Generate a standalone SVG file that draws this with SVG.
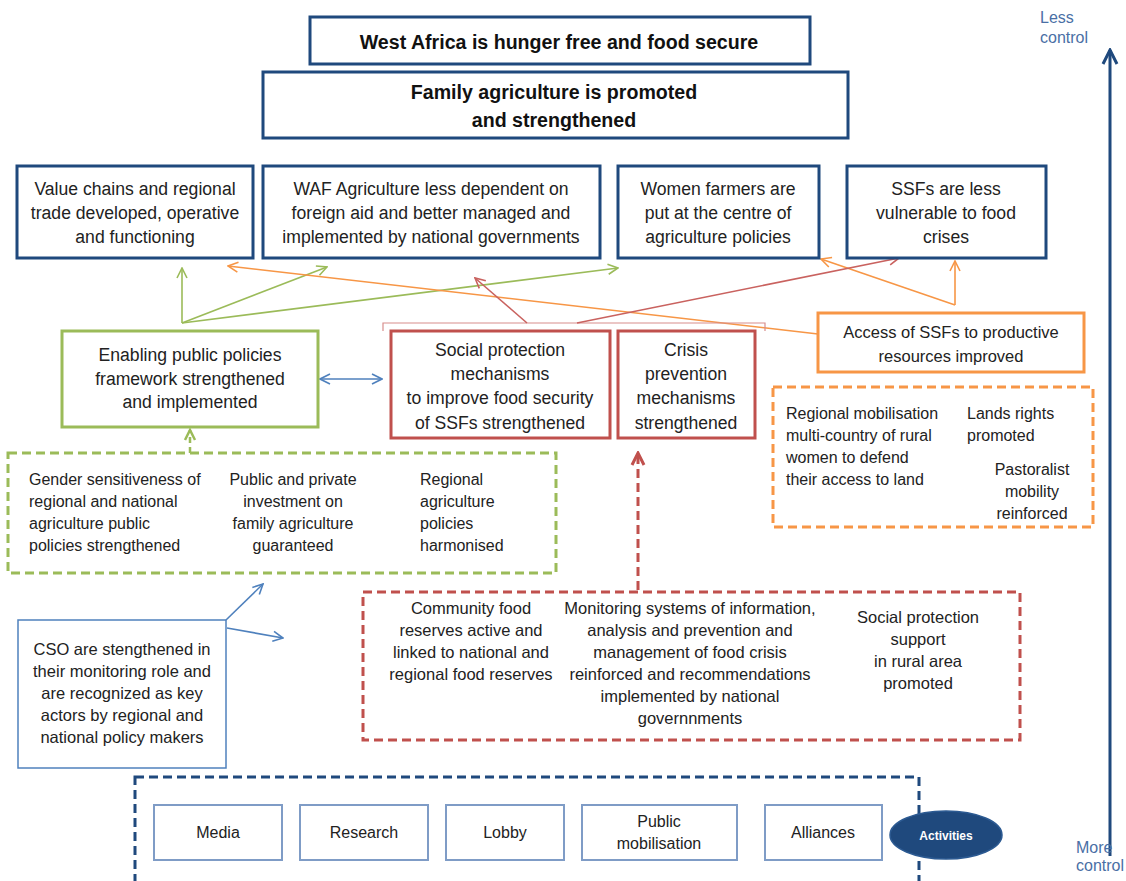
<svg xmlns="http://www.w3.org/2000/svg" width="1126" height="881" viewBox="0 0 1126 881">
<style>
  text { font-family: "Liberation Sans", Arial, sans-serif; fill: #222; }
  .c { text-anchor: middle; }
  .t18 { font-size: 17.6px; }
  .t17 { font-size: 16.5px; }
  .t16 { font-size: 16px; }
  .t15 { font-size: 16.5px; }
  .bold { font-weight: bold; font-size: 19.6px; fill: #111; }
  .navy { fill: #fff; stroke: #1F497D; stroke-width: 3; }
  .green { fill: #fff; stroke: #9BBB59; stroke-width: 3; }
  .red { fill: #fff; stroke: #C0504D; stroke-width: 3; }
  .orange { fill: #fff; stroke: #F79646; stroke-width: 3; }
  .dash { fill: none; stroke-width: 3; stroke-dasharray: 9 5; }
  .thinblue { fill: #fff; stroke: #4F81BD; stroke-width: 1.5; }
  .act { fill: #fff; stroke: #7F9CC6; stroke-width: 2; }
  .ctl { font-size: 16px; fill: #4A6FA5; }
  .ln { fill: none; stroke-width: 1.6; }
</style>
<defs>
  <marker id="aG" viewBox="0 0 12 12" refX="11" refY="6" markerWidth="12" markerHeight="12" markerUnits="userSpaceOnUse" orient="auto"><path d="M1,1 L11,6 L1,11" fill="none" stroke="#9BBB59" stroke-width="1.6"/></marker>
  <marker id="aO" viewBox="0 0 12 12" refX="11" refY="6" markerWidth="12" markerHeight="12" markerUnits="userSpaceOnUse" orient="auto"><path d="M1,1 L11,6 L1,11" fill="none" stroke="#F79646" stroke-width="1.6"/></marker>
  <marker id="aR" viewBox="0 0 12 12" refX="11" refY="6" markerWidth="12" markerHeight="12" markerUnits="userSpaceOnUse" orient="auto"><path d="M1,1 L11,6 L1,11" fill="none" stroke="#C9625F" stroke-width="1.6"/></marker>
  <marker id="aB" viewBox="0 0 12 12" refX="11" refY="6" markerWidth="12" markerHeight="12" markerUnits="userSpaceOnUse" orient="auto-start-reverse"><path d="M1,1 L11,6 L1,11" fill="none" stroke="#4F81BD" stroke-width="1.6"/></marker>
  <marker id="aGd" viewBox="0 0 14 14" refX="12" refY="7" markerWidth="14" markerHeight="14" markerUnits="userSpaceOnUse" orient="auto"><path d="M2,2 L12,7 L2,12" fill="none" stroke="#9BBB59" stroke-width="2.5"/></marker>
  <marker id="aRd" viewBox="0 0 16 16" refX="14" refY="8" markerWidth="16" markerHeight="16" markerUnits="userSpaceOnUse" orient="auto"><path d="M2,2 L14,8 L2,14" fill="none" stroke="#C0504D" stroke-width="3"/></marker>
  <marker id="aN" viewBox="0 0 18 18" refX="16" refY="9" markerWidth="18" markerHeight="18" markerUnits="userSpaceOnUse" orient="auto"><path d="M2,2 L16,9 L2,16" fill="none" stroke="#1F497D" stroke-width="3"/></marker>
</defs>

<g id="connectors">
  <path class="ln" stroke="#9BBB59" d="M182,323 L182,268" marker-end="url(#aG)"/>
  <path class="ln" stroke="#9BBB59" d="M182,323 L327,267" marker-end="url(#aG)"/>
  <path class="ln" stroke="#9BBB59" d="M182,323 L618,268" marker-end="url(#aG)"/>
  <path class="ln" stroke="#F79646" d="M818,334 L228,266" marker-end="url(#aO)"/>
  <path class="ln" stroke="#F79646" d="M955,305 L821,259" marker-end="url(#aO)"/>
  <path class="ln" stroke="#F79646" d="M955,305 L955,261" marker-end="url(#aO)"/>
  <path fill="none" stroke="#D88E8C" stroke-width="1.2" d="M383,331 L383,323 L765,323 L765,331"/>
  <path class="ln" stroke="#C9625F" d="M527,323 L475,278" marker-end="url(#aR)"/>
  <path class="ln" stroke="#C9625F" d="M577,323 L899,258" marker-end="url(#aR)"/>
  <path class="ln" stroke="#4F81BD" d="M320,379 L382,379" marker-start="url(#aB)" marker-end="url(#aB)"/>
  <path class="ln" stroke="#4F81BD" d="M226,620 L263,584" marker-end="url(#aB)"/>
  <path class="ln" stroke="#4F81BD" d="M227,628 L283,638" marker-end="url(#aB)"/>
  <path fill="none" stroke="#9BBB59" stroke-width="2.5" stroke-dasharray="6 4" d="M190,453 L190,430" marker-end="url(#aGd)"/>
  <path fill="none" stroke="#C0504D" stroke-width="3" stroke-dasharray="9 5" d="M638,590 L638,453" marker-end="url(#aRd)"/>
  <path fill="none" stroke="#1F497D" stroke-width="3" d="M1110,856 L1110,50" marker-end="url(#aN)"/>
</g>

<g id="goal">
  <rect class="navy" x="310" y="17" width="500" height="47"/>
  <text class="bold c" x="559" y="49">West Africa is hunger free and food secure</text>
</g>
<g id="family">
  <rect class="navy" x="263" y="72" width="585" height="66"/>
  <text class="bold c" x="554" y="99">Family agriculture is promoted</text>
  <text class="bold c" x="554" y="127">and strengthened</text>
</g>

<g id="value-chains">
  <rect class="navy" x="17" y="166" width="236" height="92"/>
  <text class="t18 c" x="135" y="195">Value chains and regional</text>
  <text class="t18 c" x="135" y="219">trade developed, operative</text>
  <text class="t18 c" x="135" y="243">and functioning</text>
</g>
<g id="waf">
  <rect class="navy" x="263" y="166" width="337" height="92"/>
  <text class="t18 c" x="431" y="195">WAF Agriculture less dependent  on</text>
  <text class="t18 c" x="431" y="219">foreign aid and better managed and</text>
  <text class="t18 c" x="431" y="243">implemented by national governments</text>
</g>
<g id="women">
  <rect class="navy" x="618" y="166" width="201" height="92"/>
  <text class="t18 c" x="718" y="195">Women farmers are</text>
  <text class="t18 c" x="718" y="219">put at the  centre of</text>
  <text class="t18 c" x="718" y="243">agriculture policies</text>
</g>
<g id="ssfs">
  <rect class="navy" x="847" y="166" width="199" height="92"/>
  <text class="t18 c" x="946" y="195">SSFs are less</text>
  <text class="t18 c" x="946" y="219">vulnerable to food</text>
  <text class="t18 c" x="946" y="243">crises</text>
</g>

<g id="enabling">
  <rect class="green" x="62" y="331" width="256" height="96"/>
  <text class="t18 c" x="190" y="361">Enabling public policies</text>
  <text class="t18 c" x="190" y="385">framework strengthened</text>
  <text class="t18 c" x="190" y="408">and implemented</text>
</g>
<g id="social-protection">
  <rect class="red" x="391" y="331" width="219" height="107"/>
  <text class="t18 c" x="500" y="356">Social protection</text>
  <text class="t18 c" x="500" y="380">mechanisms</text>
  <text class="t18 c" x="500" y="404">to improve food security</text>
  <text class="t18 c" x="500" y="429">of SSFs strengthened</text>
</g>
<g id="crisis">
  <rect class="red" x="618" y="331" width="137" height="107"/>
  <text class="t18 c" x="686" y="356">Crisis</text>
  <text class="t18 c" x="686" y="380">prevention</text>
  <text class="t18 c" x="686" y="404">mechanisms</text>
  <text class="t18 c" x="686" y="429">strengthened</text>
</g>
<g id="access">
  <rect class="orange" x="818" y="313" width="266" height="59"/>
  <text class="t17 c" x="951" y="338">Access of SSFs to productive</text>
  <text class="t17 c" x="951" y="362">resources improved</text>
</g>

<g id="land-group">
  <rect class="dash" stroke="#F79646" x="773" y="387" width="320" height="140"/>
  <text class="t16" x="786" y="419">Regional mobilisation</text>
  <text class="t16" x="786" y="441">multi-country of rural</text>
  <text class="t16" x="786" y="463">women to defend</text>
  <text class="t16" x="786" y="485">their access to land</text>
  <text class="t16" x="967" y="419">Lands rights</text>
  <text class="t16" x="967" y="441">promoted</text>
  <text class="t16 c" x="1032" y="475">Pastoralist</text>
  <text class="t16 c" x="1032" y="497">mobility</text>
  <text class="t16 c" x="1032" y="519">reinforced</text>
</g>

<g id="policy-group">
  <rect class="dash" stroke="#9BBB59" x="8" y="453" width="548" height="120"/>
  <text class="t16" x="29" y="485">Gender sensitiveness of</text>
  <text class="t16" x="29" y="507">regional and national</text>
  <text class="t16" x="29" y="529">agriculture public</text>
  <text class="t16" x="29" y="551">policies strengthened</text>
  <text class="t16 c" x="293" y="485">Public and private</text>
  <text class="t16 c" x="293" y="507">investment on</text>
  <text class="t16 c" x="293" y="529">family agriculture</text>
  <text class="t16 c" x="293" y="551">guaranteed</text>
  <text class="t16" x="420" y="485">Regional</text>
  <text class="t16" x="420" y="507">agriculture</text>
  <text class="t16" x="420" y="529">policies</text>
  <text class="t16" x="420" y="551">harmonised</text>
</g>

<g id="cso">
  <rect class="thinblue" x="18" y="620" width="208" height="148"/>
  <text class="t17 c" x="122" y="655">CSO are stengthened in</text>
  <text class="t17 c" x="122" y="677">their monitoring role and</text>
  <text class="t17 c" x="122" y="699">are recognized as key</text>
  <text class="t17 c" x="122" y="721">actors by regional and</text>
  <text class="t17 c" x="122" y="743">national policy makers</text>
</g>

<g id="crisis-group">
  <rect class="dash" stroke="#C0504D" x="363" y="592" width="657" height="148"/>
  <text class="t15 c" x="471" y="614">Community food</text>
  <text class="t15 c" x="471" y="636">reserves active  and</text>
  <text class="t15 c" x="471" y="658">linked to national and</text>
  <text class="t15 c" x="471" y="680">regional food reserves</text>
  <text class="t15 c" x="690" y="614">Monitoring systems of information,</text>
  <text class="t15 c" x="690" y="636">analysis and prevention and</text>
  <text class="t15 c" x="690" y="658">management of food crisis</text>
  <text class="t15 c" x="690" y="680">reinforced and recommendations</text>
  <text class="t15 c" x="690" y="702">implemented by national</text>
  <text class="t15 c" x="690" y="724">governnments</text>
  <text class="t15 c" x="918" y="623">Social protection</text>
  <text class="t15 c" x="918" y="645">support</text>
  <text class="t15 c" x="918" y="667">in rural area</text>
  <text class="t15 c" x="918" y="689">promoted</text>
</g>

<g id="activities-group">
  <rect class="dash" stroke="#1F497D" x="135" y="777" width="784" height="130"/>
</g>
<g id="media">
  <rect class="act" x="154" y="805" width="128" height="55"/>
  <text class="t16 c" x="218" y="838">Media</text>
</g>
<g id="research">
  <rect class="act" x="300" y="805" width="128" height="55"/>
  <text class="t16 c" x="364" y="838">Research</text>
</g>
<g id="lobby">
  <rect class="act" x="446" y="805" width="118" height="55"/>
  <text class="t16 c" x="505" y="838">Lobby</text>
</g>
<g id="public-mobilisation">
  <rect class="act" x="582" y="805" width="155" height="55"/>
  <text class="t16 c" x="659" y="827">Public</text>
  <text class="t16 c" x="659" y="849">mobilisation</text>
</g>
<g id="alliances">
  <rect class="act" x="765" y="805" width="117" height="55"/>
  <text class="t16 c" x="823" y="838">Alliances</text>
</g>
<g id="activities">
  <ellipse cx="946" cy="835" rx="56" ry="24" fill="#1F497D" stroke="#2C5A92" stroke-width="1.5"/>
  <text class="c" x="946" y="840" style="font-size:12px;font-weight:bold;fill:#fff">Activities</text>
</g>

<g id="control-labels">
  <text class="ctl" x="1040" y="23">Less</text>
  <text class="ctl" x="1040" y="43">control</text>
  <text class="ctl" x="1076" y="853">More</text>
  <text class="ctl" x="1076" y="871">control</text>
</g>
</svg>
